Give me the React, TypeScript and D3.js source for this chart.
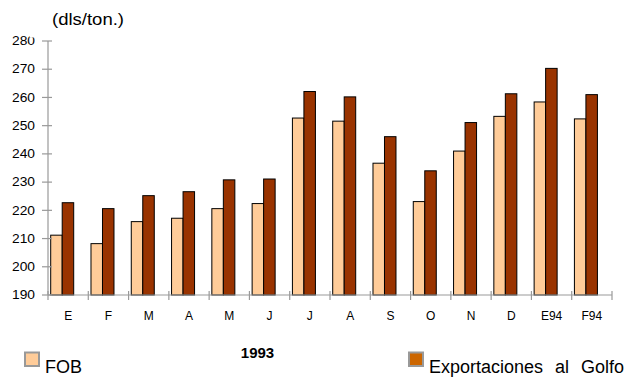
import React, { useEffect, useRef } from "react";
import * as d3 from "d3";

const months = ["E", "F", "M", "A", "M", "J", "J", "A", "S", "O", "N", "D", "E94", "F94"];
const fob = [211.2, 208.2, 216.0, 217.2, 220.6, 222.4, 252.7, 251.6, 236.7, 223.1, 241.0, 253.3, 258.4, 252.4];
const golfo = [222.7, 220.6, 225.2, 226.6, 230.8, 231.1, 262.1, 260.2, 246.1, 234.0, 251.1, 261.3, 270.3, 261.0];
const yTicks = [190, 200, 210, 220, 230, 240, 250, 260, 270, 280];

const FONT = "Arial, 'Liberation Sans', sans-serif";

function App() {
    const svgRef = useRef<SVGSVGElement>(null);

    useEffect(() => {
        const width = 629;
        const height = 377;
        const left = 48;
        const right = 612;
        const top = 41;
        const bottom = 295;

        const svg = d3.select(svgRef.current)
            .attr("width", width)
            .attr("height", height);

        svg.selectAll("*").remove();

        const x = d3.scaleBand<number>()
            .domain(d3.range(months.length))
            .range([left, right])
            .padding(0);

        const y = d3.scaleLinear()
            .domain([190, 280])
            .range([bottom, top]);

        const barW = 11.5;
        const offset = 2.7;

        // bars
        const g = svg.append("g");
        g.selectAll("rect.fob")
            .data(fob)
            .enter()
            .append("rect")
            .attr("class", "fob")
            .attr("x", (d, i) => (x(i) as number) + offset)
            .attr("y", d => y(d))
            .attr("width", barW)
            .attr("height", d => bottom - y(d))
            .attr("fill", "#FFCC99")
            .attr("stroke", "#000")
            .attr("stroke-width", 1);

        g.selectAll("rect.golfo")
            .data(golfo)
            .enter()
            .append("rect")
            .attr("class", "golfo")
            .attr("x", (d, i) => (x(i) as number) + offset + barW)
            .attr("y", d => y(d))
            .attr("width", barW)
            .attr("height", d => bottom - y(d))
            .attr("fill", "#993300")
            .attr("stroke", "#000")
            .attr("stroke-width", 1);

        // y axis
        const axisColor = "#999";
        svg.append("line")
            .attr("x1", left).attr("x2", left)
            .attr("y1", y(280)).attr("y2", bottom)
            .attr("stroke", axisColor).attr("stroke-width", 1.2);

        svg.selectAll("line.ytick")
            .data(yTicks)
            .enter()
            .append("line")
            .attr("x1", left - 6).attr("x2", left + 4)
            .attr("y1", d => y(d)).attr("y2", d => y(d))
            .attr("stroke", axisColor).attr("stroke-width", 1.2);

        svg.selectAll("text.ylab")
            .data(yTicks)
            .enter()
            .append("text")
            .attr("x", 35)
            .attr("y", d => y(d) + 4.2)
            .attr("text-anchor", "end")
            .attr("font-family", FONT)
            .attr("font-size", 12)
            .attr("textLength", 23)
            .attr("lengthAdjust", "spacingAndGlyphs")
            .attr("fill", "#000")
            .text(d => d);

        // x axis
        svg.append("line")
            .attr("x1", left).attr("x2", right)
            .attr("y1", bottom).attr("y2", bottom)
            .attr("stroke", axisColor).attr("stroke-width", 1.2);

        svg.selectAll("line.xtick")
            .data(d3.range(months.length + 1))
            .enter()
            .append("line")
            .attr("x1", i => left + i * x.bandwidth())
            .attr("x2", i => left + i * x.bandwidth())
            .attr("y1", bottom - 4).attr("y2", bottom + 5)
            .attr("stroke", axisColor).attr("stroke-width", 1.2);

        svg.selectAll("text.xlab")
            .data(months)
            .enter()
            .append("text")
            .attr("x", (d, i) => (x(i) as number) + x.bandwidth() / 2)
            .attr("y", 320)
            .attr("text-anchor", "middle")
            .attr("font-family", FONT)
            .attr("font-size", 12)
            .attr("fill", "#000")
            .text(d => d);

        // title box covers the top of the 280 label
        svg.append("rect")
            .attr("x", 29.5).attr("y", 0)
            .attr("width", 100).attr("height", 37.5)
            .attr("fill", "#fff");

        svg.append("text")
            .attr("x", 52)
            .attr("y", 25)
            .attr("font-family", FONT)
            .attr("font-size", 16)
            .attr("textLength", 72)
            .attr("lengthAdjust", "spacingAndGlyphs")
            .attr("fill", "#000")
            .text("(dls/ton.)");

        svg.append("text")
            .attr("x", 257.5)
            .attr("y", 358)
            .attr("text-anchor", "middle")
            .attr("font-family", FONT)
            .attr("font-size", 15)
            .attr("font-weight", "bold")
            .attr("fill", "#000")
            .text("1993");

        // legend
        const legend = [
            { label: "FOB", color: "#FFCC99", x: 24 },
            { label: "Exportaciones al Golfo", color: "#CC6600", x: 408 },
        ];
        const lg = svg.selectAll("g.leg")
            .data(legend)
            .enter()
            .append("g");
        lg.append("rect")
            .attr("x", d => d.x + 1)
            .attr("y", 352.5)
            .attr("width", 14)
            .attr("height", 13.5)
            .attr("fill", d => d.color)
            .attr("stroke", "#999")
            .attr("stroke-width", 2);
        lg.append("text")
            .attr("x", d => d.x + 21)
            .attr("y", 372.5)
            .attr("font-family", FONT)
            .attr("font-size", 18)
            .attr("word-spacing", d => (d.label === "FOB" ? 0 : 7))
            .attr("fill", "#000")
            .text(d => d.label);
    }, []);

    return (
        <svg
            ref={svgRef}
            style={{ position: "absolute", left: 0, top: 0, display: "block", background: "#fff" }}
        ></svg>
    );
}

export default App;
